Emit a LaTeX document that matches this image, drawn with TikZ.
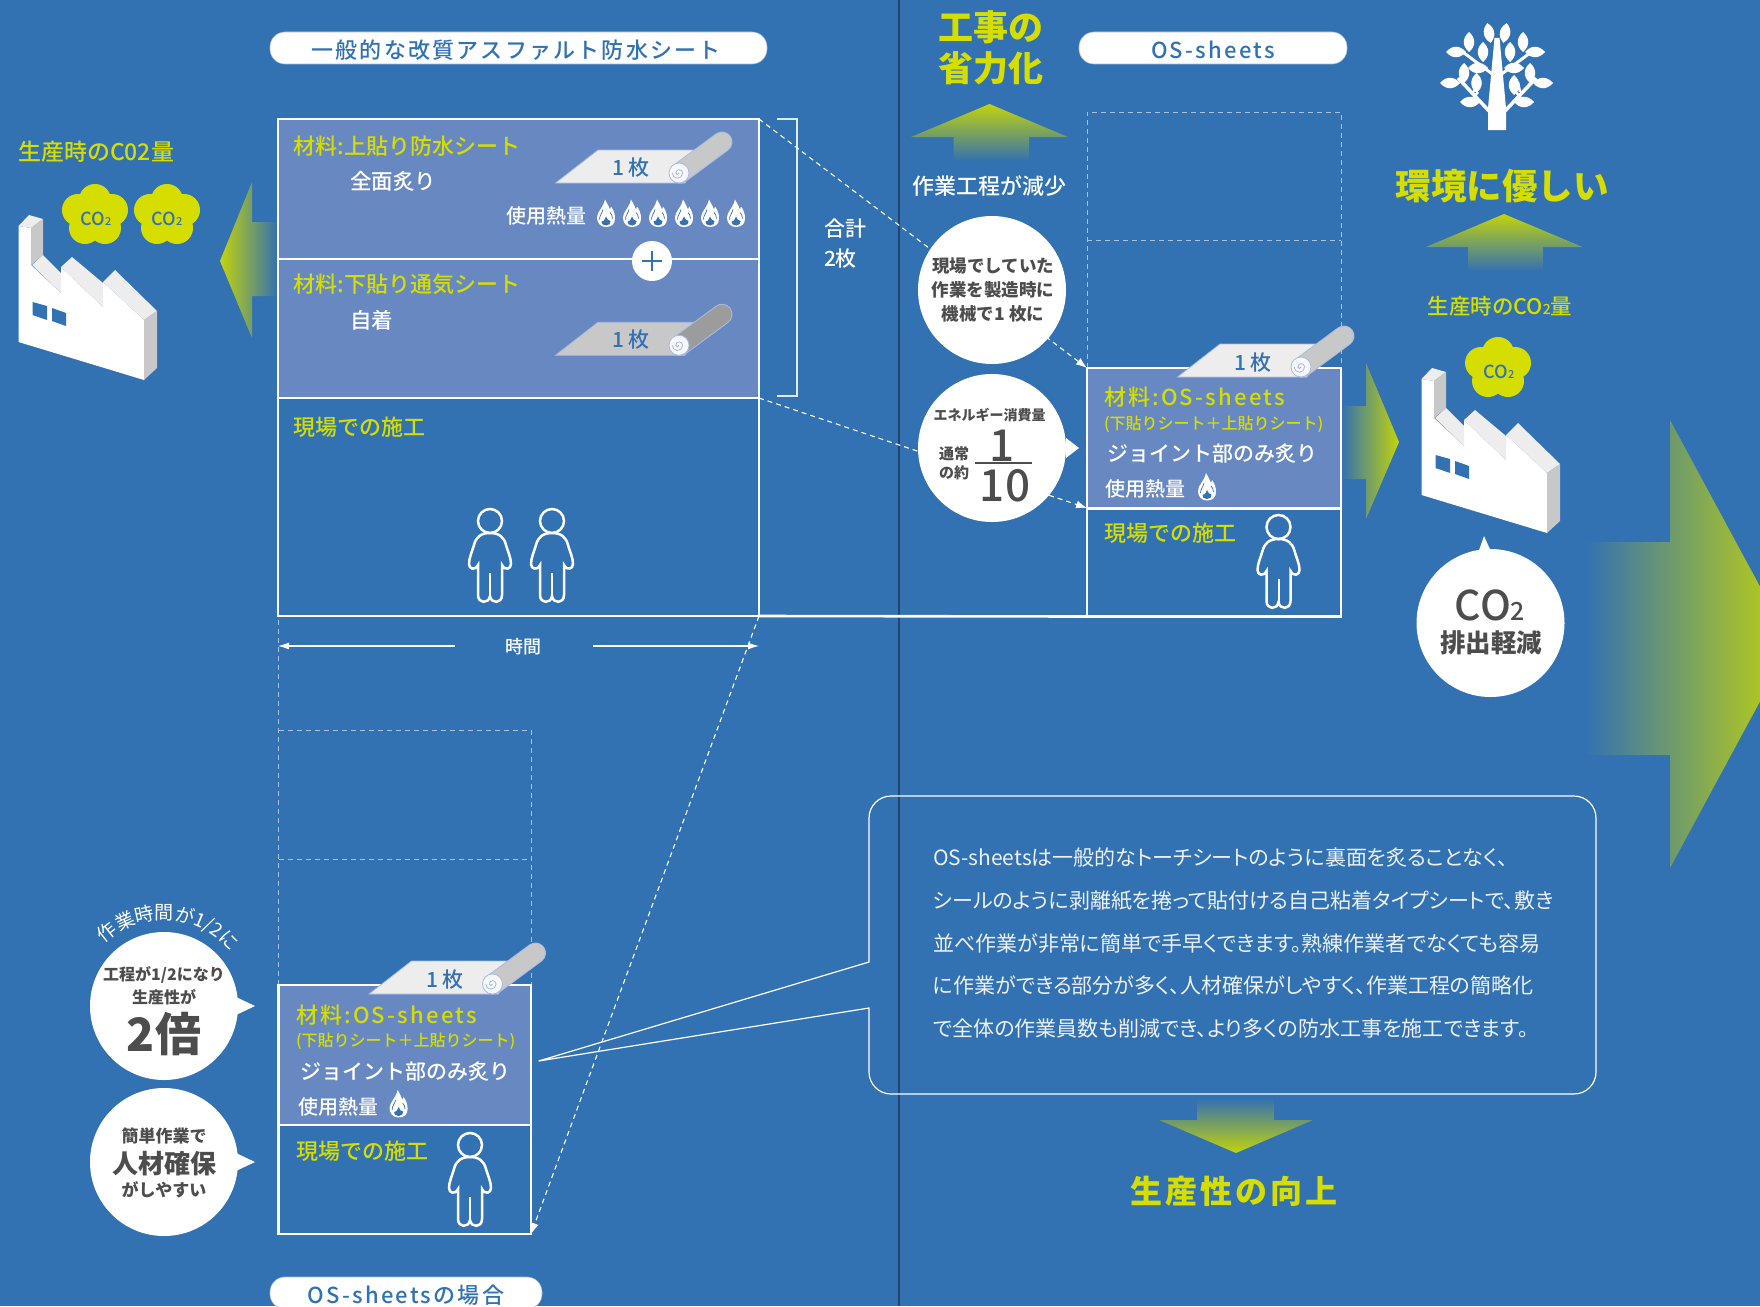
\documentclass[tikz,border=0pt]{standalone}
\usepackage{fontspec}
\setmainfont{Noto Sans CJK JP}[BoldFont={Noto Sans CJK JP Medium}]
\newfontfamily\jpsp[LetterSpace=10,BoldFont={Noto Sans CJK JP Medium}]{Noto Sans CJK JP}
\newfontfamily\jphv{Noto Sans CJK JP}
\newfontfamily\callfont[RawFeature=+palt]{Noto Sans CJK JP}
\usetikzlibrary{arrows.meta,decorations.text,shadings}
\definecolor{bgblue}{HTML}{3271B2}
\definecolor{panelblue}{HTML}{6888C1}
\definecolor{yel}{HTML}{D6DE00}
\definecolor{arrowyel}{HTML}{C2D30C}
\definecolor{tgray}{HTML}{4D4D4D}
\definecolor{ghost}{HTML}{A9C0DF}
\definecolor{edgeblue}{HTML}{A9BBDD}
\definecolor{vline}{HTML}{24446E}
\definecolor{sheetlight}{HTML}{EDEDED}
\definecolor{sheetmid}{HTML}{C8C8C8}
\definecolor{sheetdark}{HTML}{9C9C9C}
\newcommand\fsz[1]{\fontsize{#1}{#1}\selectfont}
\newcommand\fszl[2]{\fontsize{#1}{#2}\selectfont}
\newcommand\cotwo[1]{CO{\fsz{#1}2}}
\tikzset{
  txt/.style={inner sep=0pt,outer sep=0pt,yshift=-1pt},
  yellab/.style={txt,anchor=west,text=yel,font=\fsz{22}\bfseries},
  whlab/.style={txt,anchor=west,text=white,font=\fsz{21.5}\bfseries},
  heat/.style={txt,anchor=west,text=white,font=\fsz{20}\bfseries},
  osname/.style={txt,anchor=west,text=yel,font=\jpsp\fsz{22}\bfseries},
  osparen/.style={txt,anchor=west,text=yel,font=\fsz{16}\bfseries},
  onesheet/.style={txt,text=bgblue,font=\fsz{21}\bfseries},
  pilltext/.style={txt,text=bgblue,font=\jpsp\fsz{22}\bfseries},
  graytext/.style={txt,text=tgray,align=center},
  pill/.style={fill=white,draw=edgeblue,line width=.6pt,rounded corners=15pt},
  panel/.style={draw=white,line width=2.6pt,fill=panelblue,inner sep=0pt,outer sep=0pt},
  openpanel/.style={draw=white,line width=2.6pt,inner sep=0pt,outer sep=0pt},
  ghostbox/.style={draw=ghost,line width=1pt,dash pattern=on 5pt off 4pt},
  dashlink/.style={draw=white,line width=1.1pt,dash pattern=on 5pt off 4pt,-{Latex[length=11pt,width=8pt]}},
  whitedisc/.style={circle,fill=white,inner sep=0pt,outer sep=0pt,minimum size=148pt},
}
\newcommand\sheetroll[4]{% dx dy sheetfill rollfill
  \begin{scope}[shift={(#1,#2)}]
    \draw[fill=#3,draw=edgeblue,line width=.8pt] (555.5,183) -- (598,150) -- (696,150) -- (685,183) -- cycle;
    \draw[edgeblue,line width=21pt,line cap=round] (680,173) -- (722,142);
    \draw[#4,line width=19pt,line cap=round] (680,173) -- (722,142);
    \draw[fill=white!90!edgeblue,draw=edgeblue,line width=.8pt] (679,173) circle[radius=10];
    \draw[edgeblue,line width=.8pt] (679,173) arc[start angle=0,end angle=180,radius=1.6] arc[start angle=180,end angle=360,radius=3.4] arc[start angle=0,end angle=180,radius=5.2];
  \end{scope}
}
\newcommand\flamemark[2]{%
  \begin{scope}[shift={(#1,#2)}]
    \fill[white] (0,13.5) .. controls (-6,13.5) and (-9,9) .. (-9,4) .. controls (-9,-2) and (-3,-5) .. (-1,-14) .. controls (2,-9) and (3,-6) .. (4,-4) .. controls (5,-5) and (5,-6) .. (5,-7) .. controls (8,-3) and (9,1) .. (9,5) .. controls (9,10) and (6,13.5) .. (0,13.5);
    \fill[bgblue] (0,12) .. controls (-3,12) and (-5,10) .. (-4.5,8) .. controls (-3,8.5) and (-1.5,7) .. (0,3) .. controls (1,6) and (2.5,7.5) .. (4.5,7.5) .. controls (5,10) and (3,12) .. (0,12);
    \draw[bgblue,line width=.7pt] (-6.5,6) .. controls (-6.5,2) and (-4,0) .. (-3,-4);
    \draw[bgblue,line width=.7pt] (6.5,5) .. controls (6.5,2) and (5,0) .. (4,-1);
  \end{scope}
}
\newcommand\personmark[2]{%
  \begin{scope}[shift={(#1,#2)}]
    \draw[white,line width=2.5pt] (0,12) circle[radius=12];
    \draw[white,line width=2.5pt] (0,24) .. controls (9,24) and (14,28) .. (16,36) .. controls (18,43) and (21,49) .. (21,55) .. controls (21,60) and (15,62) .. (12,56) -- (12,86) .. controls (12,95) and (1,95) .. (0,87) .. controls (-1,95) and (-12,95) .. (-12,86) -- (-12,56) .. controls (-15,62) and (-21,60) .. (-21,55) .. controls (-21,49) and (-18,43) .. (-16,36) .. controls (-14,28) and (-9,24) .. (0,24);
    \draw[white,line width=2pt] (0,64) -- (0,87);
  \end{scope}
}
\newcommand\factorymark[2]{%
  \begin{scope}[shift={(#1,#2)}]
    \fill[white] (18.5,226) -- (31,228) -- (31,265) -- (61,293) -- (61,267) -- (103,307) -- (103,282) -- (144,320) -- (144,380) -- (18.5,342) -- cycle;
    \fill[sheetlight] (18.5,226) -- (29,215) -- (43,219) -- (31,228) -- cycle;
    \fill[sheetmid] (31,228) -- (43,219) -- (43,255) -- (31,265) -- cycle;
    \fill[sheetlight] (32,265) -- (43,255) -- (61,273) -- (61,293) -- cycle;
    \fill[sheetlight] (61,267) -- (72,257) -- (103,283) -- (103,307) -- cycle;
    \fill[sheetlight] (103,282) -- (115,270) -- (157,311) -- (144,320) -- cycle;
    \fill[sheetmid] (144,320) -- (157,311) -- (157,368) -- (144,380) -- cycle;
    \fill[bgblue] (32.5,302) -- (47,306) -- (47,320) -- (32.5,315) -- cycle;
    \fill[bgblue] (52,308) -- (66,313) -- (66,326) -- (52,321) -- cycle;
  \end{scope}
}
\newcommand\cloudmark[2]{%
  \fill[yel,shift={(#1,#2)}] (0,-14) circle[radius=16] (17,-4) circle[radius=16] (-17,-4) circle[radius=16] (10,14) circle[radius=16] (-10,14) circle[radius=16] (0,0) circle[radius=16];
}
\newcommand\leaf[3]{\fill[white,shift={(#1,#2)},rotate=#3] (-10,0) .. controls (-4,-7) and (4,-7) .. (10,0) .. controls (4,7) and (-4,7) .. (-10,0);}
\begin{document}
\begin{tikzpicture}[x=1pt,y=-1pt]
\useasboundingbox (0,0) rectangle (1760,1306);
\clip (0,0) rectangle (1760,1306);
\fill[bgblue] (0,0) rectangle (1760,1306);
\coordinate (divtop) at (899,0);
\coordinate (divbot) at (899,1306);
\draw[vline,line width=1.4pt] (divtop) -- (divbot);

% gradient arrows
\shade[left color=arrowyel,right color=bgblue] (278,222) -- (252,222) -- (252,182) -- (220,261) -- (252,338) -- (252,296) -- (278,296) -- cycle;
\shade[top color=arrowyel,bottom color=bgblue] (989.5,104) -- (1068,137) -- (1029,137) -- (1029,161) -- (953.5,161) -- (953.5,137) -- (911,137) -- cycle;
\shade[top color=arrowyel,bottom color=bgblue] (1504,214) -- (1582.6,247) -- (1543,247) -- (1543,271) -- (1468,271) -- (1468,247) -- (1426,247) -- cycle;
\shade[left color=bgblue,right color=arrowyel] (1341,406) -- (1366,406) -- (1366,363) -- (1399,442) -- (1366,519) -- (1366,479) -- (1341,479) -- cycle;
\shade[left color=bgblue,right color=arrowyel] (1584,542) -- (1670,542) -- (1670,420) -- (1791,644) -- (1670,868) -- (1670,755) -- (1584,755) -- cycle;
\shade[top color=bgblue,bottom color=arrowyel] (1197,1098) -- (1274,1098) -- (1274,1120) -- (1313,1120) -- (1236,1153) -- (1159,1120) -- (1197,1120) -- cycle;

% ghost outlines
\draw[ghostbox] (1087,368) -- (1087,112) -- (1341,112) -- (1341,368);
\draw[ghostbox] (1087,240) -- (1341,240);
\draw[ghostbox] (278.6,985) -- (278.6,616);
\draw[ghostbox] (278.6,730) -- (531,730) -- (531,985);
\draw[ghostbox] (278.6,859) -- (531,859);

% panels
\node[panel,minimum width=481pt,minimum height=140pt] (roofA) at (518.5,189) {};
\node[panel,minimum width=481pt,minimum height=139pt] (roofB) at (518.5,328.5) {};
\node[openpanel,minimum width=481pt,minimum height=218pt] (siteA) at (518.5,507) {};
\node[panel,minimum width=254pt,minimum height=140pt] (osA) at (1214,438) {};
\node[openpanel,minimum width=254pt,minimum height=108pt] (osAsite) at (1214,562.5) {};
\node[panel,minimum width=252.4pt,minimum height=140pt] (osB) at (404.8,1055) {};
\node[openpanel,minimum width=252.4pt,minimum height=109pt] (osBsite) at (404.8,1179.5) {};
\draw[white,line width=2.6pt] (siteA.south east) -- (osAsite.south west);

% bracket
\coordinate (brA) at (777,119);
\coordinate (brB) at (797,119);
\coordinate (brC) at (797,396);
\coordinate (brD) at (777,396);
\draw[white!85!bgblue,line width=1.3pt] (brA) -- (brB) -- (brC) -- (brD);

% dashed links
\draw[dashlink] (roofA.north east) -- (osA.north west);
\draw[dashlink] (siteA.north east) -- (osA.south west);
\draw[dashlink] (siteA.south east) -- (osBsite.south east);

% time arrows
\node[txt,text=white,font=\fsz{18}\bfseries] (jikan) at (523,646) {時間};
\coordinate (tL) at (278,646);
\coordinate (tR) at (759,646);
\coordinate (tLe) at (455,646);
\coordinate (tRs) at (593,646);
\draw[white,line width=1.1pt,-{Latex[length=11pt,width=7pt]}] (tLe) -- (tL);
\draw[white,line width=1.1pt,-{Latex[length=11pt,width=7pt]}] (tRs) -- (tR);

% pills
\node[pill,minimum width=497pt,minimum height=32pt,inner sep=0pt] (pillA) at (518.5,48) {};
\node[pilltext] (pillAt) at (516,49) {一般的な改質アスファルト防水シート};
\node[pill,minimum width=268pt,minimum height=32pt,inner sep=0pt] (pillB) at (1213,48) {};
\node[pilltext] (pillBt) at (1213,49) {OS-sheets};
\node[pill,minimum width=272pt,minimum height=32pt,inner sep=0pt] (pillC) at (406,1293) {};
\node[pilltext] (pillCt) at (406,1294) {OS-sheetsの場合};

% sheets
\sheetroll{0}{0}{sheetlight}{sheetmid}
\node[onesheet] (one1) at (631,167) {1 枚};
\sheetroll{0}{172.3}{sheetmid}{sheetdark}
\node[onesheet] (one2) at (631,339) {1 枚};
\sheetroll{622}{194}{sheetlight}{sheetmid}
\node[onesheet] (one3) at (1253,362) {1 枚};
\sheetroll{-186.5}{811}{sheetlight}{sheetmid}
\node[onesheet] (one4) at (445,979) {1 枚};

% plus
\node[circle,fill=white,minimum size=40pt,inner sep=0pt,outer sep=0pt] (plus) at (652,261) {};
\draw[bgblue,line width=1.6pt] ([xshift=-10pt]plus.center) -- ([xshift=10pt]plus.center);
\draw[bgblue,line width=1.6pt] ([yshift=-10pt]plus.center) -- ([yshift=10pt]plus.center);

% left texts in panels
\node[yellab] (mat1) at (293.5,145) {材料:上貼り防水シート};
\node[whlab] (how1) at (350,180) {全面炙り};
\node[heat] (heat1) at (506,215) {使用熱量};
\flamemark{606}{213.5}\flamemark{632}{213.5}\flamemark{658}{213.5}\flamemark{684}{213.5}\flamemark{710}{213.5}\flamemark{736}{213.5}
\node[yellab] (mat2) at (293.5,283) {材料:下貼り通気シート};
\node[whlab] (how2) at (350,319) {自着};
\node[yellab] (site1) at (293.5,426) {現場での施工};
\personmark{490}{509}
\personmark{552}{509}
\node[whlab,anchor=center,align=left,font=\fszl{21}{30}\bfseries] (total) at (845,243) {合計\\2枚};

% OS box right
\node[osname] (osm1) at (1104,396) {材料:OS-sheets};
\node[osparen] (osp1) at (1104,423) {(下貼りシート＋上貼りシート)};
\node[whlab,font=\fsz{21}\bfseries] (osj1) at (1107,453) {ジョイント部のみ炙り};
\node[heat] (osh1) at (1105,488) {使用熱量};
\flamemark{1207}{487}
\node[yellab] (oss1) at (1104,532) {現場での施工};
\personmark{1278.5}{515}

% OS box lower
\node[osname] (osm2) at (296,1014) {材料:OS-sheets};
\node[osparen] (osp2) at (296,1040) {(下貼りシート＋上貼りシート)};
\node[whlab,font=\fsz{21}\bfseries] (osj2) at (300,1071) {ジョイント部のみ炙り};
\node[heat] (osh2) at (298,1106) {使用熱量};
\flamemark{398.6}{1104}
\node[yellab] (oss2) at (296,1150) {現場での施工};
\personmark{470}{1133}

% factories and clouds
\factorymark{0}{0}
\factorymark{1403}{153}
\cloudmark{95}{214}
\cloudmark{167}{214}
\cloudmark{1498}{367}
\node[txt,text=bgblue,font=\fsz{18}\bfseries] (co1) at (96,218) {\cotwo{11}};
\node[txt,text=bgblue,font=\fsz{18}\bfseries] (co2) at (167,218) {\cotwo{11}};
\node[txt,text=bgblue,font=\fsz{18}\bfseries] (co3) at (1499,371) {\cotwo{11}};
\node[yellab,font=\fsz{23}\bfseries] (prodL) at (18,151) {生産時のC02量};
\node[txt,text=yel,font=\fsz{21.5}\bfseries] (prodR) at (1500,305) {生産時のCO{\fsz{14}2}量};

% headings
\node[txt,text=yel,font=\jphv\fszl{35}{41}\bfseries,align=center] (sec1) at (991,47) {工事の\\省力化};
\node[txt,text=white,font=\fsz{22}\bfseries] (sec1b) at (989,185) {作業工程が減少};
\node[txt,text=yel,font=\jphv\fsz{35.5}\bfseries] (sec2) at (1502,185) {環境に優しい};
\node[txt,text=yel,font=\jphv\fsz{32}\bfseries\addfontfeature{LetterSpace=10}] (sec3) at (1234,1190) {生産性の向上};

% tree
\fill[white] (1488,130) -- (1488,108) -- (1494.5,38) -- (1499.5,38) -- (1506,108) -- (1506,130) -- cycle;
\draw[white,line width=3.5pt] (1490,112) -- (1458,78);
\draw[white,line width=3.5pt] (1504,112) -- (1536,78);
\draw[white,line width=3pt] (1495,76) -- (1460,50);
\draw[white,line width=3pt] (1499,76) -- (1534,50);
\draw[white,line width=2.5pt] (1474,92) -- (1476,82);
\draw[white,line width=2.5pt] (1520,92) -- (1518,82);
\draw[white,line width=2.5pt] (1478,92) -- (1470,102);
\draw[white,line width=2.5pt] (1516,92) -- (1524,102);
\leaf{1489}{33}{-80}\leaf{1505}{33}{-100}
\leaf{1469}{42}{90}\leaf{1523}{42}{90}
\leaf{1483}{52}{90}\leaf{1510}{52}{90}
\leaf{1456}{52}{0}\leaf{1535}{52}{0}
\leaf{1464}{73}{90}\leaf{1530}{73}{90}
\leaf{1478}{68}{0}\leaf{1514}{68}{0}
\leaf{1476.5}{83}{90}\leaf{1514}{85}{90}
\leaf{1450}{83}{0}\leaf{1543}{83}{0}
\leaf{1470}{102}{0}\leaf{1524}{102}{0}

% callout
\coordinate (calltip) at (538.6,1061);
\draw[white,line width=1.2pt] (calltip) [sharp corners] -- (869,962) [rounded corners=22pt] -- (869,796) -- (1596,796) -- (1596,1094) -- (869,1094) [sharp corners] -- (869,1008) -- (calltip);
\node[txt,anchor=west,text=white!90!bgblue,align=left,font=\callfont\fszl{21}{42.8}] (calltext) at (933,942) {OS-sheetsは一般的なトーチシートのように裏面を炙ることなく、\\シールのように剥離紙を捲って貼付ける自己粘着タイプシートで、敷き\\並べ作業が非常に簡単で手早くできます。熟練作業者でなくても容易\\に作業ができる部分が多く、人材確保がしやすく、作業工程の簡略化\\で全体の作業員数も削減でき、より多くの防水工事を施工できます。};

% white discs
\node[whitedisc] (disc1) at (992,290) {};
\node[graytext,font=\jphv\fszl{17.5}{24}\bfseries] (disc1t) at (993,289) {現場でしていた\\作業を製造時に\\機械で1 枚に};
\node[whitedisc] (disc2) at (992,448) {};
\coordinate (tail2) at (1079,448);
\fill[white] ([yshift=-10pt]disc2.east) -- (tail2) -- ([yshift=10pt]disc2.east) -- cycle;
\node[graytext,font=\jphv\fsz{14}\bfseries] (d2a) at (989.5,414) {エネルギー消費量};
\node[graytext,font=\jphv\fszl{15}{19.5}\bfseries] (d2b) at (954,462.5) {通常\\の約};
\node[graytext,font=\fsz{44}\bfseries] (d2c) at (1002,445) {1};
\node[graytext,font=\fsz{44}\bfseries] (d2d) at (1005,485) {10};
\coordinate (barL) at (975,463);
\coordinate (barR) at (1031.5,463);
\draw[tgray,line width=1.4pt] (barL) -- (barR);

\node[whitedisc] (disc3) at (1490.5,623) {};
\coordinate (tail3) at (1484,536);
\coordinate (tail3a) at (1477,556);
\coordinate (tail3b) at (1493,556);
\fill[white] (tail3a) -- (tail3) -- (tail3b) -- cycle;
\node[graytext,font=\fsz{41}\bfseries] (d3a) at (1490,604) {\cotwo{25}};
\node[graytext,font=\jphv\fsz{25.5}\bfseries] (d3b) at (1491,642) {排出軽減};

\node[whitedisc] (disc4) at (164,1006) {};
\coordinate (tail4) at (255,1006);
\fill[white] ([yshift=-9pt,xshift=-2pt]disc4.east) -- (tail4) -- ([yshift=9pt,xshift=-2pt]disc4.east) -- cycle;
\node[graytext,font=\jphv\fszl{16}{23}\bfseries] (d4a) at (164,984.5) {工程が1/2になり\\生産性が};
\node[graytext,font=\jphv\fsz{46}\bfseries] (d4b) at (164,1033) {2倍};

\node[whitedisc] (disc5) at (164,1162) {};
\coordinate (tail5) at (255,1162);
\fill[white] ([yshift=-9pt,xshift=-2pt]disc5.east) -- (tail5) -- ([yshift=9pt,xshift=-2pt]disc5.east) -- cycle;
\node[graytext,font=\jphv\fsz{17}\bfseries] (d5a) at (164,1135) {簡単作業で};
\node[graytext,font=\jphv\fsz{26}\bfseries] (d5b) at (164,1163) {人材確保};
\node[graytext,font=\jphv\fsz{17}\bfseries] (d5c) at (164,1189) {がしやすい};

% arc text
\coordinate (arcA) at (98.1,950.7);
\coordinate (arcB) at (135.3,906.4);
\coordinate (arcC) at (204.6,910.7);
\coordinate (arcD) at (236.1,959.2);
\path[decorate,decoration={text along path,text align=center,text={|\fsz{19}\color{white}|作業時間が1/2に}}] (arcA) .. controls (arcB) and (arcC) .. (arcD);
\end{tikzpicture}
\end{document}
